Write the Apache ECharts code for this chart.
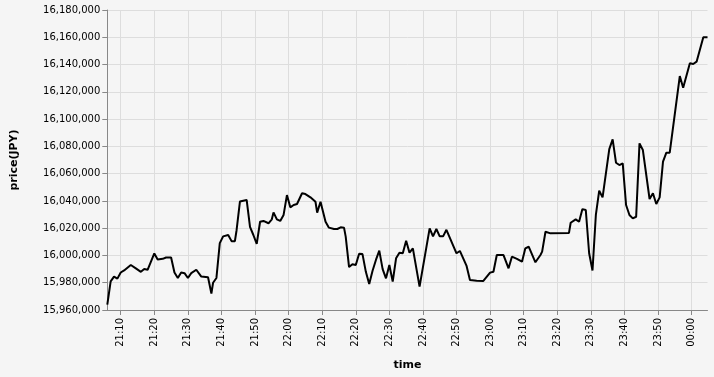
<!DOCTYPE html>
<html>
<head>
<meta charset="utf-8">
<script src="https://cdn.jsdelivr.net/npm/echarts@6/dist/echarts.min.js"></script>
<style>
html,body{margin:0;padding:0;background:#f5f5f5;}
#c{width:714px;height:377px;}
</style>
</head>
<body>
<div id="c"></div>
<script>
const times = ['21:06:00','21:07:00','21:08:00','21:09:00','21:10:00','21:11:00','21:13:00','21:14:30','21:16:00','21:17:00','21:18:00','21:20:00','21:21:00','21:22:30','21:23:30','21:25:00','21:26:00','21:27:00','21:28:00','21:29:00','21:30:00','21:31:00','21:32:30','21:34:00','21:36:00','21:37:00','21:37:30','21:38:30','21:39:30','21:40:30','21:42:00','21:43:00','21:44:00','21:44:30','21:45:30','21:47:30','21:48:30','21:49:30','21:50:30','21:51:30','21:52:30','21:54:00','21:55:00','21:55:30','21:56:30','21:57:30','21:58:30','21:59:30','22:00:30','22:01:30','22:02:30','22:04:00','22:05:00','22:06:30','22:08:00','22:08:30','22:09:30','22:11:00','22:12:00','22:13:30','22:14:30','22:15:30','22:16:30','22:17:00','22:18:00','22:19:00','22:20:00','22:21:00','22:22:00','22:23:00','22:24:00','22:25:00','22:26:00','22:27:00','22:28:00','22:29:00','22:30:00','22:31:00','22:32:00','22:33:00','22:34:00','22:35:00','22:36:00','22:37:00','22:39:00','22:42:00','22:43:00','22:44:00','22:45:00','22:46:00','22:47:00','22:50:00','22:51:00','22:53:00','22:54:00','22:56:00','22:58:00','23:00:00','23:01:00','23:02:00','23:04:00','23:05:30','23:06:30','23:08:00','23:09:30','23:10:30','23:11:30','23:13:30','23:15:00','23:15:30','23:16:30','23:18:00','23:23:30','23:24:00','23:25:30','23:26:30','23:27:30','23:28:30','23:29:30','23:30:30','23:31:30','23:32:30','23:33:30','23:35:30','23:36:30','23:37:30','23:38:30','23:39:30','23:40:30','23:41:30','23:42:30','23:43:30','23:44:30','23:45:30','23:47:30','23:48:30','23:49:30','23:50:30','23:51:30','23:52:30','23:53:30','23:56:30','23:57:30','23:59:30','00:00:30','00:01:30','00:03:30','00:04:45'];
const prices = [15964000,15981000,15984500,15983000,15987500,15989000,15993000,15990500,15988000,15990000,15989500,16001500,15997000,15997500,15998500,15998500,15987500,15983500,15987500,15987000,15983500,15987000,15989500,15984500,15984000,15972000,15980000,15983500,16009000,16014000,16015000,16010500,16010500,16018500,16039500,16040700,16021000,16015000,16008500,16024700,16025300,16023600,16026500,16031600,16026500,16025300,16029700,16044300,16035300,16037000,16037700,16045600,16045000,16042600,16039400,16031400,16039400,16024700,16020400,16019400,16019400,16020600,16020400,16013800,15991500,15993500,15993000,16001300,16001000,15988000,15979000,15988800,15996700,16003500,15990000,15983200,15993000,15980800,15997900,16002000,16001600,16010800,16002000,16005200,15977100,16019900,16014000,16019400,16014000,16014000,16018800,16001600,16003300,15992300,15982000,15981500,15981300,15987400,15988100,16000300,16000300,15990600,15999100,15997500,15995400,16005200,16006400,15995000,16000300,16002800,16017400,16016200,16016500,16024000,16026500,16024700,16034000,16033300,16001600,15989000,16029700,16047500,16042600,16078000,16085100,16068000,16066300,16067600,16037000,16029700,16027200,16028400,16082200,16077300,16041400,16045600,16037700,16042600,16068800,16075400,16075400,16131500,16123000,16140900,16140400,16142100,16160000,16160000];
const tickLabels = ['21:10','21:20','21:30','21:40','21:50','22:00','22:10','22:20','22:30','22:40','22:50','23:00','23:10','23:20','23:30','23:40','23:50','00:00'];
const yMin = 15960000, yMax = 16180000, yStep = 20000;

function toMin(s){
  const p = s.split(':').map(Number);
  const h = p[0] < 12 ? p[0] + 24 : p[0];
  return (h - 21) * 60 + p[1] + (p[2] || 0) / 60;
}
const tickVals = tickLabels.map(toMin);
const labelMap = {};
tickLabels.forEach((t, i) => { labelMap[tickVals[i].toFixed(3)] = t; });
const data = times.map((t, i) => [toMin(t), prices[i]]);

const chart = echarts.init(document.getElementById('c'), null, {renderer: 'canvas'});
const font = 'DejaVu Sans';
chart.setOption({
  backgroundColor: '#f5f5f5',
  animation: false,
  grid: {left: 107.3, right: 6.5, top: 10, bottom: 67, containLabel: false},
  xAxis: {
    type: 'value',
    min: data[0][0],
    max: data[data.length - 1][0],
    name: 'time',
    nameLocation: 'middle',
    nameGap: 50,
    nameTextStyle: {fontFamily: font, fontSize: 11, fontWeight: 'bold', color: '#000'},
    axisLine: {show: true, onZero: false, lineStyle: {color: '#888', width: 1}},
    axisTick: {show: true, length: 5, lineStyle: {color: '#888'}, customValues: tickVals},
    axisLabel: {
      customValues: tickVals,
      rotate: 90, margin: 8,
      fontFamily: font, fontSize: 10, color: '#000',
      formatter: v => labelMap[v.toFixed(3)] || ''
    },
    splitLine: {show: true, lineStyle: {color: '#ddd', width: 1}}
  },
  yAxis: {
    type: 'value',
    min: yMin, max: yMax, interval: yStep,
    name: 'price(JPY)',
    nameLocation: 'middle',
    nameGap: 88,
    nameTextStyle: {fontFamily: font, fontSize: 11, fontWeight: 'bold', color: '#000'},
    axisLine: {show: true, lineStyle: {color: '#888', width: 1}},
    axisTick: {show: true, length: 5, lineStyle: {color: '#888'}},
    axisLabel: {
      margin: 7, fontFamily: font, fontSize: 10, color: '#000',
      formatter: v => Math.round(v).toLocaleString('en-US')
    },
    splitLine: {show: true, lineStyle: {color: '#ddd', width: 1}}
  },
  series: [{
    type: 'line',
    data: data,
    showSymbol: false,
    symbol: 'none',
    lineStyle: {color: '#000', width: 2},
    z: 5
  }]
});
</script>
</body>
</html>
